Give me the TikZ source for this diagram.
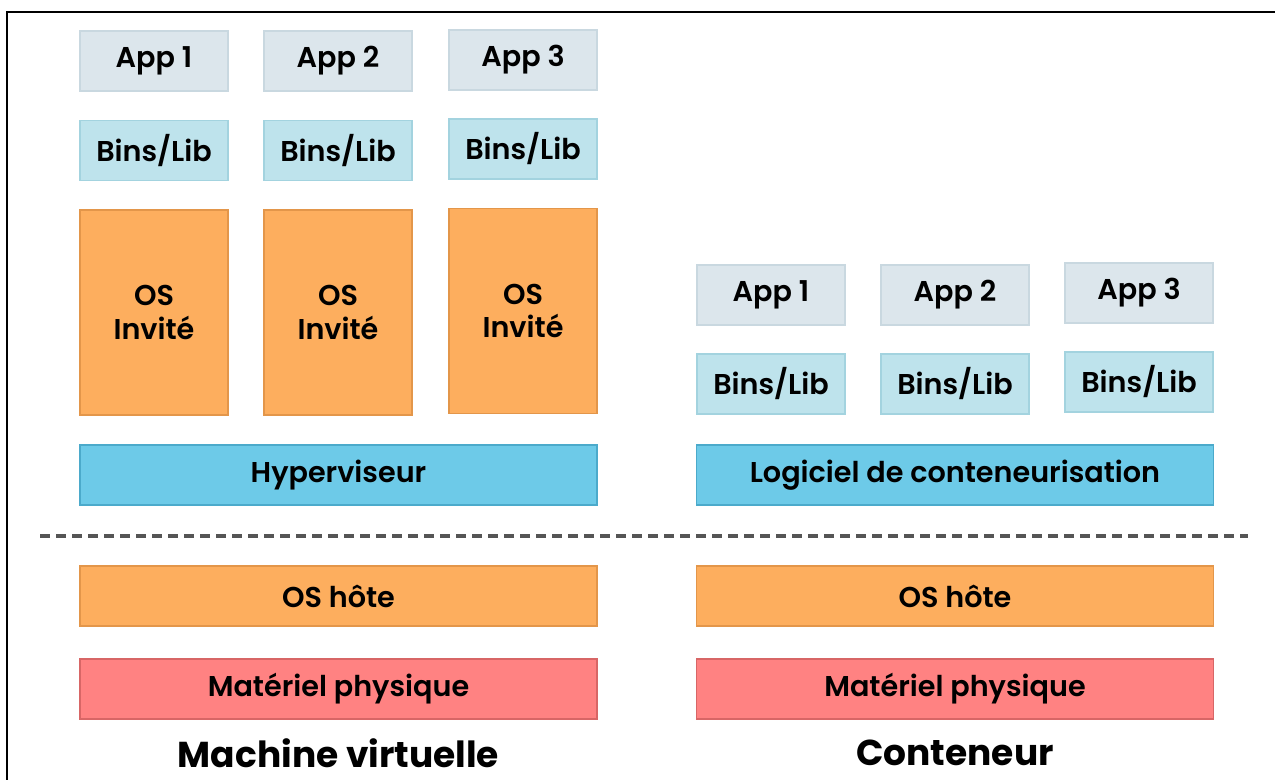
\documentclass[tikz,border=0pt]{standalone}
\usepackage{fontspec}
\setmainfont{Poppins}
\IfFontExistsTF{Poppins SemiBold}{\newfontfamily\boxfont{Poppins SemiBold}}{\newfontfamily\boxfont{Poppins}[UprightFont=*-Bold]}
\definecolor{appc}{HTML}{DCE6EC}
\definecolor{appd}{HTML}{C9D8E0}
\definecolor{binc}{HTML}{BEE3EC}
\definecolor{bind}{HTML}{A3D3DF}
\definecolor{osc}{HTML}{FDAE5E}
\definecolor{osd}{HTML}{E3964A}
\definecolor{hypc}{HTML}{6DCAE8}
\definecolor{hypd}{HTML}{4BAACB}
\definecolor{hwc}{HTML}{FF8282}
\definecolor{hwd}{HTML}{D86666}
\definecolor{dashc}{HTML}{555555}
\tikzset{
  box/.style={draw, line width=1pt, inner sep=0pt, outer sep=0pt, minimum width=111pt, minimum height=45pt, align=center, font=\boxfont\fontsize{21.5}{25}\selectfont},
  app/.style={box, fill=appc, draw=appd},
  bins/.style={box, fill=binc, draw=bind},
  guest/.style={box, fill=osc, draw=osd, minimum height=153.75pt},
  bar/.style={box, minimum width=387.75pt},
  hyp/.style={bar, fill=hypc, draw=hypd},
  host/.style={bar, fill=osc, draw=osd},
  hw/.style={bar, fill=hwc, draw=hwd},
  title/.style={font=\fontsize{27}{32}\selectfont\bfseries, inner sep=0pt}
}
\begin{document}
\begin{tikzpicture}[x=0.75pt,y=-0.75pt]
\useasboundingbox (0,0) rectangle (1275,780);
\fill[white] (0,0) rectangle (1275,780);
\draw[line width=2pt] (7,790) -- (7,12) -- (1285,12);
% Machine virtuelle
\node[app] (a1) at (154,61) {App 1};
\node[app] (a2) at (338,61) {App 2};
\node[app] (a3) at (523,60) {App 3};
\node[bins] (b1) at (154,150.5) {Bins/Lib};
\node[bins] (b2) at (338,150.5) {Bins/Lib};
\node[bins] (b3) at (523,149) {Bins/Lib};
\node[guest] (g1) at (154,312.5) {OS\\Invité};
\node[guest] (g2) at (338,312.5) {OS\\Invité};
\node[guest] (g3) at (523,311) {OS\\Invité};
\node[hyp] (hyp) at (338.5,475) {Hyperviseur};
\node[host] (h1) at (338.5,596) {OS hôte};
\node[hw] (m1) at (338.5,689) {Matériel physique};
\node[title] (t1) at (338.5,753) {Machine virtuelle};
% Conteneur
\node[app] (c1) at (771,295) {App 1};
\node[app] (c2) at (955,295) {App 2};
\node[app] (c3) at (1139,293) {App 3};
\node[bins] (d1) at (771,384) {Bins/Lib};
\node[bins] (d2) at (955,384) {Bins/Lib};
\node[bins] (d3) at (1139,382) {Bins/Lib};
\node[hyp] (ctr) at (955,475) {Logiciel de conteneurisation};
\node[host] (h2) at (955,596) {OS hôte};
\node[hw] (m2) at (955,689) {Matériel physique};
\node[title] (t2) at (955,753) {Conteneur};
% separator
\coordinate (sl) at (40,536);
\coordinate (sr) at (1248,536);
\draw[dashc, line width=2.3pt, dash pattern=on 7.5pt off 4.5pt] (sl) -- (sr);
\end{tikzpicture}
\end{document}
